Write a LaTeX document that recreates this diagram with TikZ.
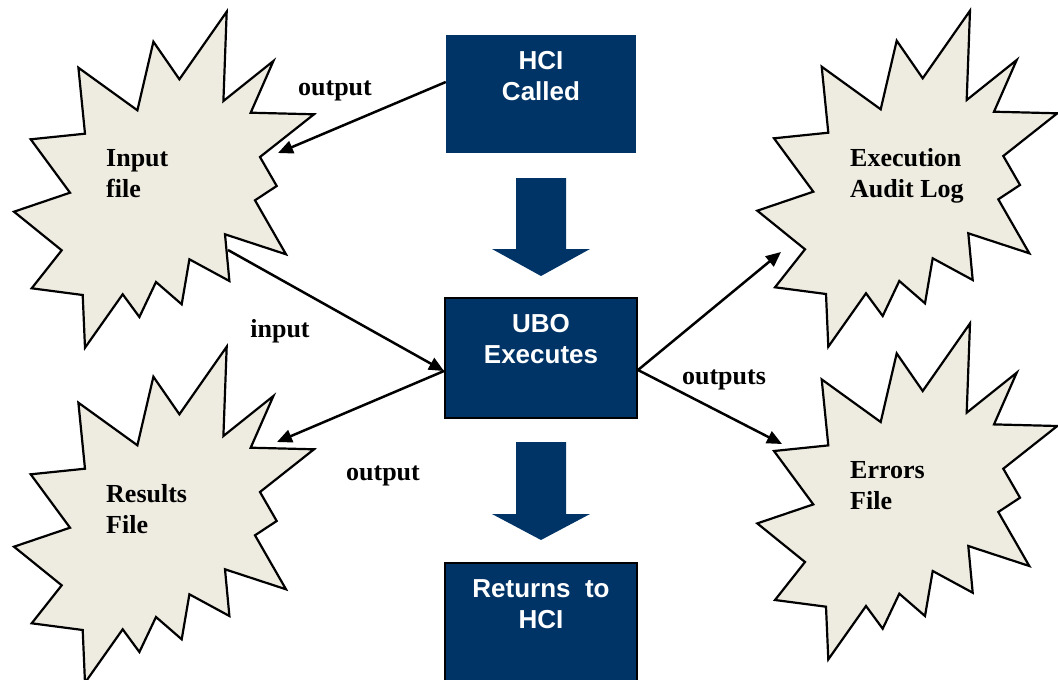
\documentclass[tikz,border=0pt]{standalone}
\usepackage{fontspec}
\setmainfont{Liberation Serif}
\newfontfamily\boxfont{Liberation Sans}
\usetikzlibrary{arrows.meta}
\definecolor{navy}{HTML}{003366}
\definecolor{burstfill}{HTML}{EEECE1}
\tikzset{
  burst/.pic={
    \draw[line width=2.2pt, fill=burstfill, line join=miter]
      (970,10.7) -- (966.7,100) -- (1016.7,60) -- (994,111.7) -- (1057.3,113.3)
      -- (1003.3,156) -- (1020,185) -- (998.3,199.3) -- (1029.3,253.3)
      -- (968.3,233.3) -- (972.7,280) -- (932.7,258.3) -- (925,303.3)
      -- (899.3,281) -- (882.7,316) -- (866,293.3) -- (828.3,346.7)
      -- (826,294) -- (775,287.3) -- (805,249.3) -- (757.3,210.7)
      -- (813.3,191.7) -- (774,138.3) -- (828.3,132.7) -- (821.7,66.7)
      -- (880.7,109.3) -- (896.7,40.7) -- (922.7,78.3) -- cycle;
  },
  bursttext/.style={font=\bfseries\fontsize{26}{31}\selectfont, align=left, inner sep=0pt, anchor=base west},
  lbl/.style={font=\bfseries\fontsize{26}{31}\selectfont, inner sep=0pt, anchor=base},
  stepbox/.style={rectangle, fill=navy, minimum width=192pt, minimum height=120pt, inner sep=0pt},
  boxtext/.style={font=\boxfont\bfseries\fontsize{26}{31}\selectfont, text=white, align=center, inner sep=0pt, anchor=north},
  conn/.style={line width=2.5pt, -{Triangle[length=15pt,width=13pt]}},
  blockarrow/.style={fill=navy},
}
\begin{document}
\begin{tikzpicture}[x=1pt,y=-1pt]
\useasboundingbox (0,0) rectangle (1058,680);
\clip (0,0) rectangle (1058,680);
% bursts
\pic at (-743.3,1) {burst};
\pic at (-743.3,336) {burst};
\pic at (0,0) {burst};
\pic at (0,312.7) {burst};
\node[bursttext] (inputfile) at (106,197) {Input\\file};
\node[bursttext] (results) at (106,533) {Results\\File};
\node[bursttext] (audit) at (850,197) {Execution\\Audit Log};
\node[bursttext] (errors) at (850,509) {Errors\\File};
% boxes
\node[stepbox, minimum width=190pt, minimum height=118pt] (hci) at (541,94) {};
\node[stepbox, draw=black, line width=2pt] (ubo) at (541,358) {};
\node[stepbox, draw=black, line width=2pt, minimum height=140pt] (ret) at (541,633) {};
\node[boxtext] (hcit) at ([yshift=-16pt]hci.north) {HCI\\Called};
\node[boxtext] (ubot) at ([yshift=-17pt]ubo.north) {UBO\\Executes};
\node[boxtext] (rett) at ([yshift=-17pt]ret.north) {Returns\ \ to\\HCI};
% block arrows
\fill[blockarrow] (516,178) -- (566,178) -- (566,249) -- (590,249) -- (541,276) -- (492,249) -- (516,249) -- cycle;
\fill[blockarrow] (516,442) -- (566,442) -- (566,514) -- (590,514) -- (541,540) -- (492,514) -- (516,514) -- cycle;
% connector end points
\coordinate (inTip) at (278,153);
\coordinate (inStart) at (228,250);
\coordinate (resTip) at (277,442);
\coordinate (auditTip) at (781,252);
\coordinate (errTip) at (782,444);
\draw[conn] ([yshift=12pt]hci.west) -- (inTip);
\draw[conn] (inStart) -- ([yshift=-13pt]ubo.west);
\draw[conn] ([yshift=-13pt]ubo.west) -- (resTip);
\draw[conn] ([yshift=-12pt]ubo.east) -- (auditTip);
\draw[conn] ([yshift=-12pt]ubo.east) -- (errTip);
% labels
\node[lbl] (l1) at (335,95) {output};
\node[lbl] (l2) at (280,337) {input};
\node[lbl] (l3) at (383,480) {output};
\node[lbl] (l4) at (724,384) {outputs};
\end{tikzpicture}
\end{document}
